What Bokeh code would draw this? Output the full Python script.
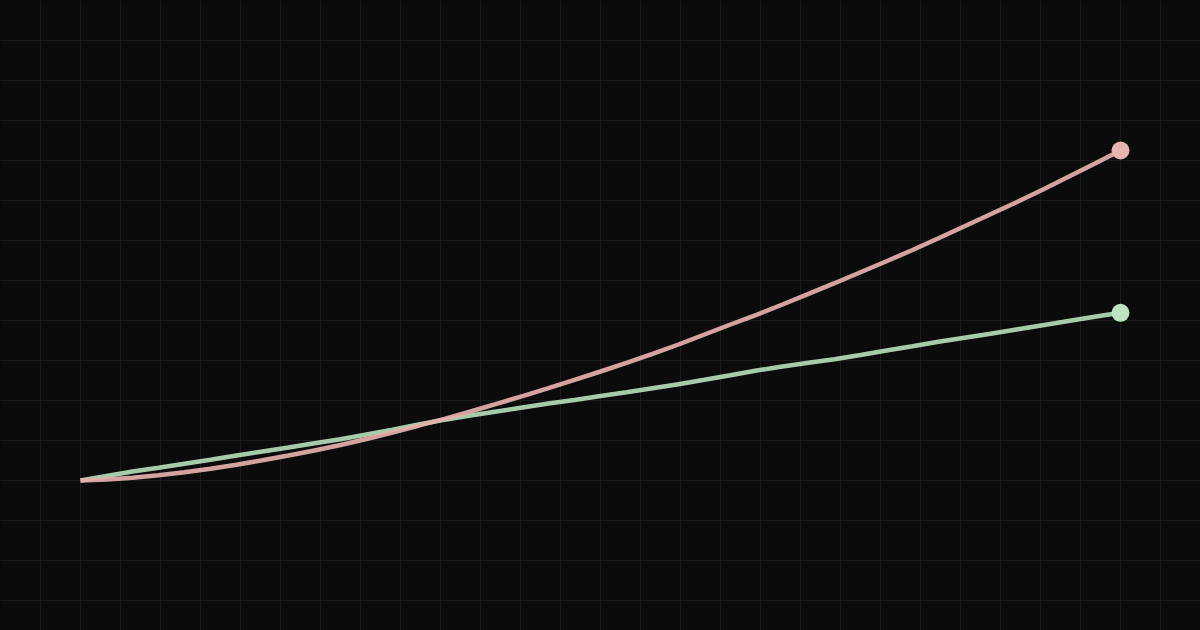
from bokeh.plotting import figure
from bokeh.models import FixedTicker, Range1d, GlobalInlineStyleSheet
from bokeh.embed import file_html
from bokeh.resources import INLINE

# years 0..40, growth index (start = 1.0)
years = list(range(41))
compound = [1.000, 1.010, 1.027, 1.053, 1.083, 1.117, 1.157, 1.203, 1.250, 1.300,
            1.355, 1.415, 1.480, 1.548, 1.617, 1.690, 1.767, 1.843, 1.923, 2.007,
            2.090, 2.177, 2.267, 2.360, 2.460, 2.560, 2.657, 2.760, 2.867, 2.973,
            3.083, 3.193, 3.305, 3.423, 3.542, 3.662, 3.783, 3.907, 4.037, 4.167,
            4.300]
simple = [1.000, 1.045, 1.090, 1.127, 1.167, 1.207, 1.250, 1.290, 1.330, 1.373,
          1.413, 1.460, 1.507, 1.560, 1.607, 1.650, 1.690, 1.730, 1.770, 1.805,
          1.845, 1.883, 1.923, 1.963, 2.007, 2.053, 2.100, 2.140, 2.177, 2.213,
          2.255, 2.300, 2.343, 2.387, 2.427, 2.467, 2.510, 2.553, 2.595, 2.637,
          2.677]

BG = "#0b0b0b"
PINK = "#e6b0ac"
GREEN = "#b4dcb8"

# 26 px per year, 100 px per index unit, year 0 at x=80, index 1.0 at y=480
px_x = 26.0
px_y = 100.0

p = figure(width=1200, height=630, output_backend="svg", toolbar_location=None,
           x_axis_location=None, y_axis_location=None,
           x_range=Range1d(-80 / px_x, 1120 / px_x),
           y_range=Range1d(1 - 150 / px_y, 1 + 480 / px_y),
           min_border=0, background_fill_color=BG, border_fill_color=BG,
           outline_line_color=None)

# 40px background grid
p.xgrid.ticker = FixedTicker(ticks=[(40 * i - 80) / px_x for i in range(31)])
p.ygrid.ticker = FixedTicker(ticks=[1 + (480 - 40 * j) / px_y for j in range(16)])
p.grid.grid_line_color = "#1b1b1b"
p.grid.grid_line_width = 1

p.line(years, simple, line_color=GREEN, line_width=4.5, line_alpha=0.92)
p.line(years, compound, line_color=PINK, line_width=4.5, line_alpha=0.92)
p.scatter([years[-1]], [simple[-1]], size=18, fill_color="#bde3c0", line_color=None)
p.scatter([years[-1]], [compound[-1]], size=18, fill_color="#e8b4b0", line_color=None)

p.stylesheets = [GlobalInlineStyleSheet(css="html, body { background: #0b0b0b; margin: 0; overflow: hidden; }")]

open("out.html", "w").write(file_html(p, INLINE))
